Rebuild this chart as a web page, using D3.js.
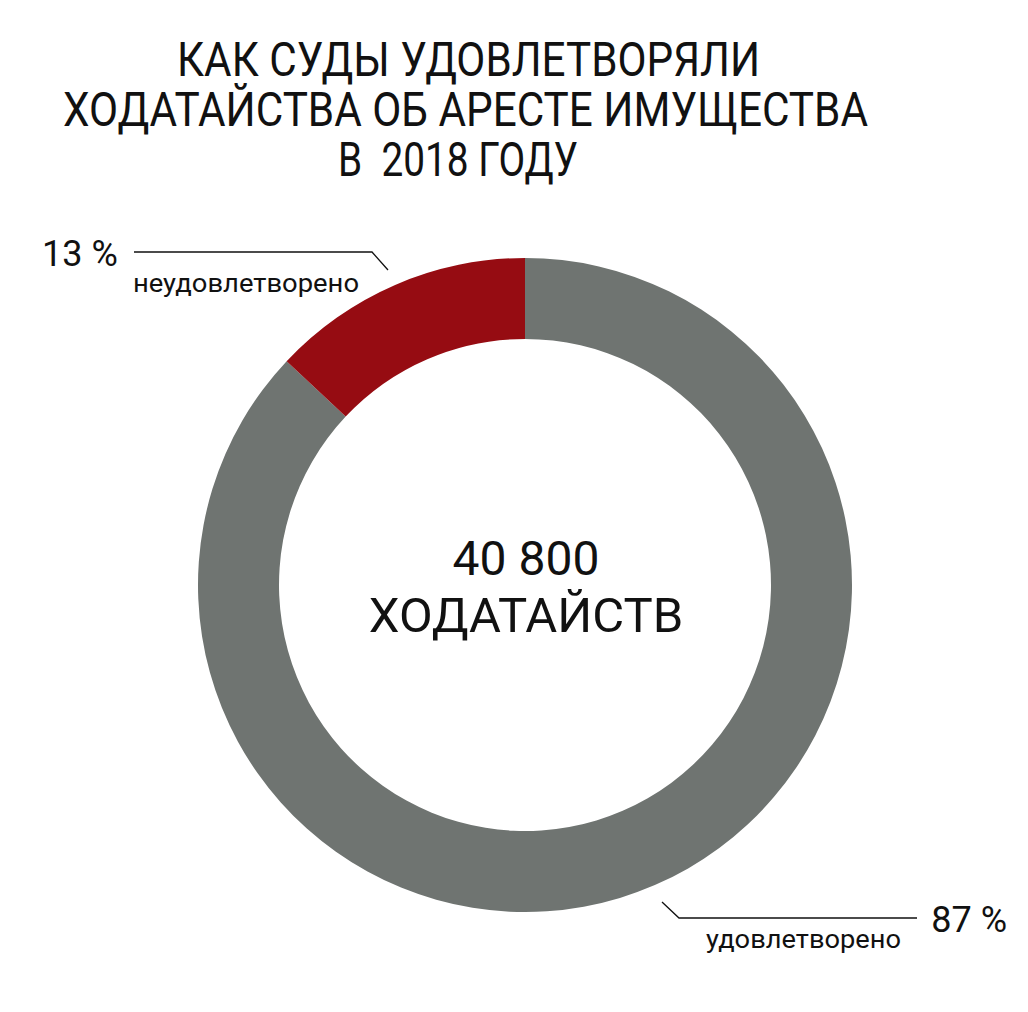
<!DOCTYPE html>
<html><head><meta charset="utf-8">
<script src="https://cdn.jsdelivr.net/npm/d3@7"></script>
<style>body{margin:0;background:#fff}svg{display:block}text{font-family:Roboto,"Noto Sans",sans-serif;fill:#111}</style>
</head><body>
<svg id="c" width="1028" height="1012"></svg>
<script>
const titleLines = ["КАК СУДЫ УДОВЛЕТВОРЯЛИ", "ХОДАТАЙСТВА ОБ АРЕСТЕ ИМУЩЕСТВА", "В  2018 ГОДУ"];
const categories = ["удовлетворено", "неудовлетворено"];
const values = [87, 13];
const valueLabels = ["87 %", "13 %"];
const colors = ["#6f7471", "#960c12"];
const centerLines = ["40 800", "ХОДАТАЙСТВ"];

const svg = d3.select("#c");
const cx = 525, cy = 585, R = 327, r = 246;

// title
const titleX = [[177, 760], [63, 868], [338, 578]];
const titleY = [76, 126, 176];
titleLines.forEach((t, i) => {
  svg.append("text").attr("x", titleX[i][0]).attr("y", titleY[i])
    .attr("font-size", 48).attr("textLength", titleX[i][1] - titleX[i][0])
    .attr("lengthAdjust", "spacingAndGlyphs").attr("xml:space","preserve").text(t);
});

const pie = d3.pie().sort(null).startAngle(0).endAngle(2 * Math.PI);
const arcs = pie(values);
const arc = d3.arc().innerRadius(r).outerRadius(R);
const g = svg.append("g").attr("transform", `translate(${cx},${cy})`);
g.selectAll("path").data(arcs).join("path")
  .attr("d", arc).attr("fill", (d, i) => colors[i]);

// center
svg.append("text").attr("x", cx + 1).attr("y", 575).attr("text-anchor", "middle").attr("font-size", 48).text(centerLines[0]);
svg.append("text").attr("x", cx + 1).attr("y", 632).attr("text-anchor", "middle").attr("font-size", 49).text(centerLines[1]);

// leader lines
const lines = [
  [[662, 902], [679, 918], [917, 918]],
  [[388, 270], [372, 252], [134, 252]]
];
lines.forEach(pts => svg.append("path").attr("d", d3.line()(pts)).attr("fill", "none").attr("stroke", "#111").attr("stroke-width", 1.3));

// labels
svg.append("text").attr("x", 1007).attr("y", 932).attr("text-anchor", "end").attr("font-size", 36).text(valueLabels[0]);
svg.append("text").attr("x", 706).attr("y", 948).attr("font-size", 25).attr("textLength", 195).attr("lengthAdjust","spacingAndGlyphs").text(categories[0]);
svg.append("text").attr("x", 42).attr("y", 266).attr("font-size", 36).text(valueLabels[1]);
svg.append("text").attr("x", 133).attr("y", 292).attr("font-size", 25).attr("textLength", 226).attr("lengthAdjust","spacingAndGlyphs").text(categories[1]);
</script>
</body></html>
